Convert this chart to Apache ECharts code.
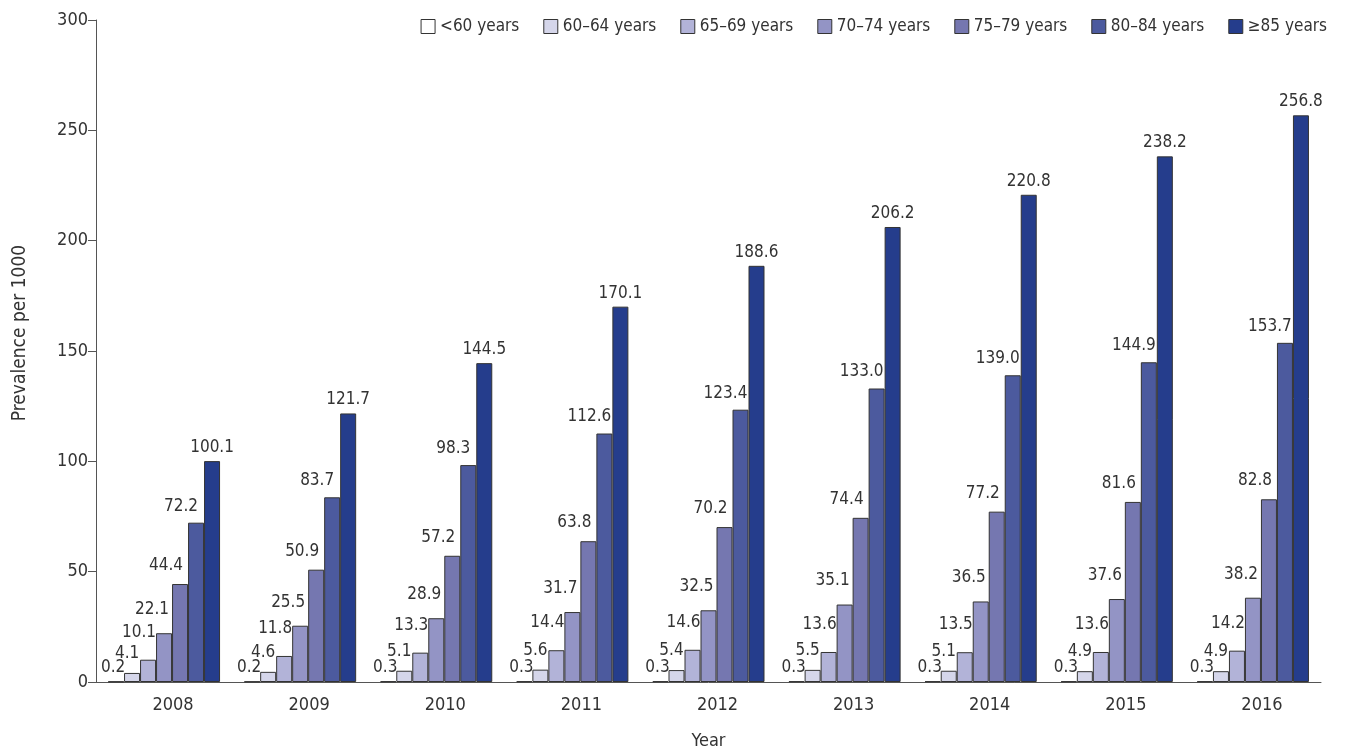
<!DOCTYPE html>
<html>
<head>
<meta charset="utf-8">
<script src="https://cdn.jsdelivr.net/npm/echarts@6/dist/echarts.min.js"></script>
<style>html,body{margin:0;padding:0;background:#fff}#c{width:1346px;height:750px}</style>
</head>
<body>
<div id="c"></div>
<script>
const years = ['2008','2009','2010','2011','2012','2013','2014','2015','2016'];
const seriesNames = ['<60 years','60–64 years','65–69 years','70–74 years','75–79 years','80–84 years','≥85 years'];
const under60 = [0.2,0.2,0.3,0.3,0.3,0.3,0.3,0.3,0.3];
const age60_64 = [4.1,4.6,5.1,5.6,5.4,5.5,5.1,4.9,4.9];
const age65_69 = [10.1,11.8,13.3,14.4,14.6,13.6,13.5,13.6,14.2];
const age70_74 = [22.1,25.5,28.9,31.7,32.5,35.1,36.5,37.6,38.2];
const age75_79 = [44.4,50.9,57.2,63.8,70.2,74.4,77.2,81.6,82.8];
const age80_84 = [72.2,83.7,98.3,112.6,123.4,133.0,139.0,144.9,153.7];
const age85plus = [100.1,121.7,144.5,170.1,188.6,206.2,220.8,238.2,256.8];
const yTicks = [0,50,100,150,200,250,300];

const allData = [under60,age60_64,age65_69,age70_74,age75_79,age80_84,age85plus];
const colors = ['#ffffff','#d5d6ea','#b2b3d8','#9394c5','#7577b0','#4c5a9e','#253d8c'];
const labelOffsets = [[-3,0],[-5,-6],[-9,-14],[-12,-10],[-14,-5],[-15,-3],[0,0]];
const narrow = '"DejaVu Sans Condensed","Liberation Sans Narrow","Roboto",sans-serif';

const chart = echarts.init(document.getElementById('c'));
chart.setOption({
  animation:false,
  backgroundColor:'#fff',
  legend:{
    data:seriesNames, right:14, top:13, icon:'rect', itemWidth:14, itemHeight:14, itemGap:24,
    textStyle:{fontFamily:narrow,fontSize:17,color:'#333'},
    itemStyle:{borderColor:'#333',borderWidth:1}
  },
  grid:{left:96,right:25,top:20,bottom:68,outerBoundsMode:'none'},
  xAxis:{
    type:'category', data:years,
    name:'Year', nameLocation:'middle', nameGap:50,
    nameTextStyle:{fontFamily:narrow,fontSize:18,color:'#333'},
    axisLine:{lineStyle:{color:'#555',width:1}},
    axisTick:{show:false},
    axisLabel:{fontFamily:narrow,fontSize:18,color:'#333',margin:14,padding:[0,0,0,18]}
  },
  yAxis:{
    type:'value', min:yTicks[0], max:yTicks[yTicks.length-1], interval:50,
    name:'Prevalence per 1000', nameLocation:'middle', nameGap:66,
    nameTextStyle:{fontFamily:narrow,fontSize:19,color:'#333',padding:[0,0,0,36]},
    axisLine:{show:true,lineStyle:{color:'#555',width:1}},
    axisTick:{show:true,length:8,lineStyle:{color:'#555'}},
    splitLine:{show:false},
    axisLabel:{fontFamily:narrow,fontSize:18,color:'#333',margin:8}
  },
  series: seriesNames.map((n,i)=>({
    name:n, type:'bar', data:allData[i], barWidth:16, barGap:'0%',
    itemStyle:{color:colors[i],borderColor:'#333',borderWidth:1},
    label:{show:true,position:'top',offset:labelOffsets[i],
      formatter:p=>p.value.toFixed(1),
      fontFamily:narrow,fontSize:17,color:'#333'}
  }))
});
</script>
</body>
</html>
